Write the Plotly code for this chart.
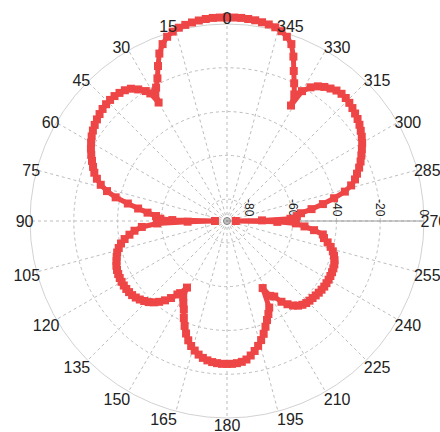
import plotly.graph_objects as go

# ---- data (angle in degrees, level in dB) ----
theta_deg = [
    0, 2, 4, 6, 8, 10, 12, 14, 16, 18, 20, 22, 24, 26, 28, 29, 30, 31, 32, 34,
    36, 38, 40, 42, 44, 46, 48, 50, 52, 54, 56, 58, 60, 62, 64, 66, 68, 70, 72, 74,
    76, 78, 80, 82, 84, 86, 88, 89, 90, 91, 92, 94, 96, 98, 100, 102, 104, 106, 108, 110,
    112, 114, 116, 118, 120, 122, 124, 126, 128, 130, 132, 134, 136, 138, 140, 142, 144, 146, 147, 149,
    150, 152, 154, 156, 158, 160, 162, 164, 166, 168, 170, 172, 174, 176, 178, 180,
    182, 184, 186, 188, 190, 192, 194, 196, 198, 200, 202, 204, 206, 208, 210, 212, 214, 216, 218, 220,
    222, 224, 226, 228, 230, 232, 234, 236, 238, 240, 242, 244, 246, 248, 250, 252, 254, 256, 258, 260,
    262, 264, 266, 268, 269, 270, 271, 272, 274, 276, 278, 280, 282, 284, 286, 288, 290, 292, 294, 296,
    298, 300, 302, 304, 306, 308, 310, 312, 314, 316, 318, 320, 322, 324, 326, 328, 330, 331, 332, 334,
    336, 338, 340, 342, 344, 346, 348, 350, 352, 354, 356, 358, 360,
]
level_db = [
    3.0, 3.0, 3.0, 2.8, 2.5, 2.1, 1.6, 1.0, 0.0, -1.5, -4.0, -7.5, -12.5, -17.5, -21.0, -22.5, -27.5, -22.0, -20.0, -17.5,
    -15.3, -14.2, -13.6, -13.2, -13.1, -13.2, -13.5, -14.0, -14.6, -15.3, -16.1, -17.1, -18.3, -19.6, -21.0, -22.5, -24.0, -25.5, -27.5, -30.0,
    -33.5, -38.0, -44.0, -49.0, -53.5, -57.5, -59.5, -65.0, -84.5, -72.0, -58.0, -51.0, -47.5, -45.0, -42.5, -40.5, -39.0, -37.8, -37.0, -36.3,
    -35.5, -35.0, -34.7, -34.5, -34.4, -34.4, -34.5, -34.7, -35.0, -35.6, -36.4, -37.4, -38.5, -40.0, -41.8, -44.0, -46.5, -49.5, -50.7, -54.5,
    -50.0, -47.5, -45.0, -41.5, -38.3, -35.3, -32.7, -30.6, -29.0, -27.6, -26.5, -25.7, -25.2, -24.9, -24.7, -24.7,
    -24.7, -24.9, -25.3, -26.1, -27.6, -29.3, -31.2, -33.4, -35.8, -38.6, -41.2, -43.5, -46.0, -55.3, -50.5, -49.3, -45.5, -43.0, -41.0, -39.5,
    -38.5, -37.9, -37.6, -37.4, -37.1, -36.8, -36.6, -36.4, -36.4, -36.4, -36.5, -36.6, -36.8, -37.1, -37.7, -38.6, -39.7, -41.2, -43.0, -45.0,
    -45.8, -50.0, -54.5, -58.5, -67.0, -86.0, -74.0, -61.0, -58.0, -56.0, -51.0, -45.5, -40.0, -34.5, -31.0, -28.5, -26.8, -24.9, -23.2, -21.7,
    -20.2, -18.7, -17.4, -16.3, -15.2, -14.3, -13.6, -12.9, -12.3, -11.9, -11.8, -12.2, -13.2, -14.3, -15.8, -18.0, -21.5, -29.7, -24.5, -20.0,
    -15.0, -9.0, -4.0, -1.5, 0.2, 1.2, 1.8, 2.2, 2.6, 2.8, 3.0, 3.0, 3.0,
]

angle_ticks = list(range(0, 360, 15))
angle_labels = [str(a) for a in angle_ticks]
radial_ticks = [-80, -60, -40, -20, 0]
radial_labels = ["-80", "-60", "-40", "-20", "0"]
grid_range = [-90, 0]      # scale of the printed rings
data_range = [-90, 4]      # same scale, a little head-room for the top lobe
origin_r = [-90]
origin_theta = [0]

RED = "#EE4646"
GRID = "#bdbdbd"
FONT = "Liberation Sans, Arial, sans-serif"

# geometry (pixels): centre and radius of the 0 dB ring
W, H = 440, 432
CX, CY, R0 = 227.0, 221.0, 197.0


def dom(radius):
    return dict(x=[(CX - radius) / W, (CX + radius) / W],
                y=[(H - (CY + radius)) / H, (H - (CY - radius)) / H])


R_grid = R0 * (grid_range[1] - grid_range[0]) / 90.0
R_data = R0 * (data_range[1] - data_range[0]) / 90.0
R_lab = 193.0

fig = go.Figure()
# grid subplot (rings, spokes, radial labels, centre mark)
fig.add_trace(go.Scatterpolar(
    r=origin_r, theta=origin_theta, mode="markers", subplot="polar",
    marker=dict(symbol="circle-open-dot", size=7, color="#777", line=dict(width=1, color="#777")),
    cliponaxis=False, showlegend=False, hoverinfo="skip",
))
# data subplot
fig.add_trace(go.Scatterpolar(
    r=level_db, theta=theta_deg, mode="lines+markers", subplot="polar2",
    line=dict(color=RED, width=5),
    marker=dict(symbol="square", size=8, color=RED),
    cliponaxis=False, showlegend=False, hoverinfo="skip",
))
# label subplot (angular tick labels only)
fig.add_trace(go.Scatterpolar(
    r=[], theta=[], mode="markers", subplot="polar3",
    showlegend=False, hoverinfo="skip",
))

hidden_radial = dict(visible=False, showgrid=False, showline=False, showticklabels=False, ticks="")

fig.update_layout(
    width=W, height=H,
    margin=dict(l=0, r=0, t=0, b=0),
    paper_bgcolor="white",
    font=dict(family=FONT, color="#222"),
    polar=dict(
        domain=dom(R_grid),
        bgcolor="white",
        angularaxis=dict(
            rotation=90, direction="counterclockwise",
            tickmode="array", tickvals=angle_ticks,
            showticklabels=False,
            showgrid=True, gridcolor=GRID, gridwidth=1, griddash="dot",
            showline=True, linecolor="#d2d2d2", linewidth=1, ticks="",
        ),
        radialaxis=dict(
            range=grid_range, tickmode="array",
            tickvals=radial_ticks, ticktext=radial_labels,
            angle=0, tickangle=90, side="counterclockwise",
            showline=True, linecolor="#9a9a9a", linewidth=1,
            showgrid=True, gridcolor=GRID, gridwidth=1, griddash="dot",
            ticks="", tickfont=dict(size=12, color="#222", family=FONT),
        ),
    ),
    polar2=dict(
        domain=dom(R_data),
        bgcolor="rgba(0,0,0,0)",
        angularaxis=dict(rotation=90, direction="counterclockwise",
                         showgrid=False, showline=False, showticklabels=False, ticks=""),
        radialaxis=dict(range=data_range, **hidden_radial),
    ),
    polar3=dict(
        domain=dom(R_lab),
        bgcolor="rgba(0,0,0,0)",
        angularaxis=dict(
            rotation=90, direction="counterclockwise",
            tickmode="array", tickvals=angle_ticks, ticktext=angle_labels,
            showgrid=False, showline=False, ticks="",
            tickfont=dict(size=16, color="#222", family=FONT),
        ),
        radialaxis=dict(range=grid_range, **hidden_radial),
    ),
)

fig.write_html("out.html", config={"displayModeBar": False},
               post_script="document.body.style.margin='0';")
